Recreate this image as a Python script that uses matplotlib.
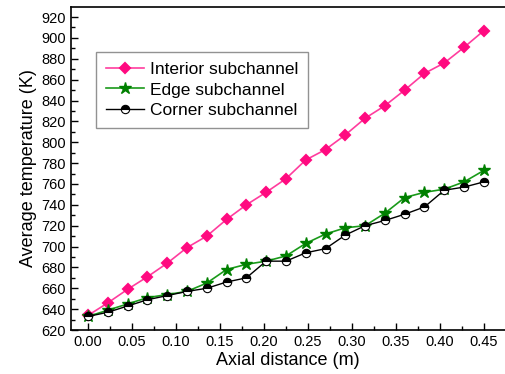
import numpy as np
from matplotlib import pyplot as plt
from matplotlib.ticker import MultipleLocator

plt.rcParams['font.family'] = ['Liberation Sans', 'DejaVu Sans']

x = np.arange(21) * 0.0225
interior = [634, 646, 659, 671, 684, 699, 710, 726, 740, 752, 765, 783,
            793, 807, 823, 835, 850, 866, 876, 891, 907]
edge = [633, 639, 645, 651, 654, 657, 665, 678, 683, 686, 691, 703,
        712, 718, 720, 732, 747, 752, 755, 762, 773]
corner = [633, 637, 643, 649, 653, 657, 660, 666, 670, 686, 686, 694,
          698, 711, 720, 725, 731, 738, 754, 757, 762]

fig = plt.figure(figsize=(5.05, 3.74), dpi=100)
ax = fig.add_axes([0.1406, 0.1176, 0.8594, 0.8636])

ax.plot(x, interior, color='#ff3d9e', lw=1.2, marker='D', ms=5.5,
        mfc='#ff0a80', mec='#ff0a80', mew=1.5, label='Interior subchannel')
ax.plot(x, edge, color='#1a9a1a', lw=1.2, marker='*', ms=9,
        mfc='#008000', mec='#008000', label='Edge subchannel')
ax.plot(x, corner, color='black', lw=1.0, marker='o', ms=6,
        fillstyle='top', mfc='black', markerfacecoloralt='white',
        mec='black', mew=0.8, label='Corner subchannel')

ax.set_xlim(-0.0193, 0.474)
ax.set_ylim(620, 929.6)
ax.xaxis.set_major_locator(MultipleLocator(0.05))
ax.xaxis.set_minor_locator(MultipleLocator(0.025))
ax.yaxis.set_major_locator(MultipleLocator(20))
ax.yaxis.set_minor_locator(MultipleLocator(10))
ax.xaxis.set_major_formatter(plt.FormatStrFormatter('%.2f'))
ax.tick_params(which='both', direction='in', labelsize=10.5, colors='black')
ax.tick_params(which='major', length=5, width=1)
ax.tick_params(which='minor', length=3, width=1)
ax.spines['right'].set_visible(False)
for s in ['left', 'bottom', 'top']:
    ax.spines[s].set_linewidth(1.2)

ax.set_xlabel('Axial distance (m)', fontsize=13, labelpad=2)
ax.set_ylabel('Average temperature (K)', fontsize=13, labelpad=3)

leg = ax.legend(loc='upper left', bbox_to_anchor=(0.0576, 0.861), fontsize=12.5,
                frameon=True, fancybox=False, edgecolor='#777777',
                handlelength=2.2, borderpad=0.55, labelspacing=0.33,
                handletextpad=0.35, borderaxespad=0)
leg.get_frame().set_linewidth(1.0)

fig.savefig('out.png', dpi=100)
